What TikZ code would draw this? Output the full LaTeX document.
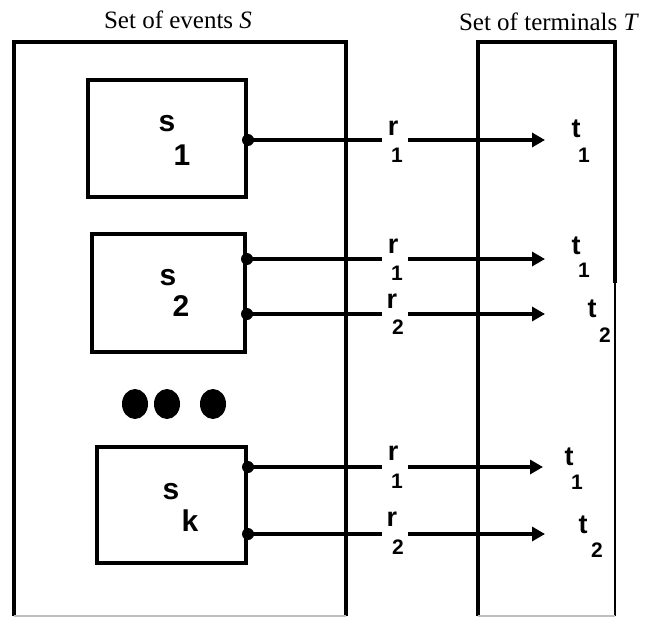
\documentclass[tikz,border=0pt]{standalone}
\usepackage{fontspec}
\setmainfont{Liberation Serif}
\setsansfont{Liberation Sans}
\usetikzlibrary{arrows.meta}

\begin{document}
\begin{tikzpicture}[x=1pt,y=-1pt,
	frame/.style={line width=4pt},
	evbox/.style 2 args={draw,line width=4pt,minimum width=#1,minimum height=#2,inner sep=0pt},
	ttl/.style={font=\fontsize{25}{25}\selectfont,inner sep=0pt},
	big/.style={font=\sffamily\bfseries\fontsize{30}{30}\selectfont,inner sep=0pt},
	mid/.style={font=\sffamily\bfseries\fontsize{27}{27}\selectfont,inner sep=0pt},
	small/.style={font=\sffamily\bfseries\fontsize{21}{21}\selectfont,inner sep=0pt},
	gap/.style={minimum width=26pt,minimum height=0pt,inner sep=0pt},
	conn/.style={line width=4pt},
	arr/.style={conn,-{Triangle[length=13pt,width=14pt]}}]
	\useasboundingbox (0,0) rectangle (651,618);
	% titles
	\node[ttl] (tS) at (178,20) {Set of events \textit{S}};
	\node[ttl] (tT) at (549,22) {Set of terminals \textit{T}};
	% the two sets
	\draw[frame] (14,616) -- (14,42) -- (346,42) -- (346,616);
	\draw[gray!50,line width=1.2pt] (14,616) -- (346,616);
	\draw[frame] (478,616) -- (478,42) -- (615,42) -- (615,283);
	\draw[line width=2pt] (615,283) -- (615,616);
	\draw[gray!50,line width=1.2pt] (478,616) -- (615,616);
	% events
	\node[evbox={158pt}{117pt}] (s1) at (167,138.5) {};
	\node[evbox={153pt}{118pt}] (s2) at (168.5,293) {};
	\node[evbox={149pt}{116pt}] (sk) at (171.5,505) {};
	\node[big] (s1a) at (167,124) {s};
	\node[big] (s1b) at (182,155) {1};
	\node[big] (s2a) at (168,278) {s};
	\node[big] (s2b) at (181,306) {2};
	\node[big] (ska) at (171,492) {s};
	\node[big] (skb) at (190,521) {k};
	% dots
	\fill (135,404) ellipse (13 and 15);
	\fill (167,404) ellipse (13 and 15);
	\fill (213,404) ellipse (13 and 15);
	% ports
	\coordinate (pa) at (s1.east |- 0,140);
	\coordinate (pb) at (s2.east |- 0,259);
	\coordinate (pc) at (s2.east |- 0,314);
	\coordinate (pd) at (sk.east |- 0,467);
	\coordinate (pe) at (sk.east |- 0,534);
	\foreach \p in {pa,pb,pc,pd,pe}
		\fill (\p) circle (6);
	% gaps for the r labels
	\node[gap] (ga) at (395,140) {};
	\node[gap] (gb) at (395,259) {};
	\node[gap] (gc) at (395,314) {};
	\node[gap] (gd) at (395,467) {};
	\node[gap] (ge) at (395,534) {};
	\node[mid] (ra) at (393,128) {r};
	\node[small] (ria) at (397,155) {1};
	\node[mid] (rb) at (393,246) {r};
	\node[small] (rib) at (397,273) {1};
	\node[mid] (rc) at (392,301) {r};
	\node[small] (ric) at (398,327) {2};
	\node[mid] (rd) at (393,453) {r};
	\node[small] (rid) at (397,481) {1};
	\node[mid] (re) at (392,519) {r};
	\node[small] (rie) at (398,547) {2};
	% terminals
	\node[mid] (ta) at (576,129) {t};
	\node[small] (tia) at (584,155) {1};
	\node[mid] (tb) at (576,246) {t};
	\node[small] (tib) at (584,270) {1};
	\node[mid] (tc) at (592,309) {t};
	\node[small] (tic) at (605,335) {2};
	\node[mid] (td) at (569,457) {t};
	\node[small] (tid) at (577,482) {1};
	\node[mid] (te) at (583,525) {t};
	\node[small] (tie) at (597,550) {2};
	\coordinate (xa) at (545,140);
	\coordinate (xb) at (545,259);
	\coordinate (xc) at (545,314);
	\coordinate (xd) at (543,467);
	\coordinate (xe) at (545,534);
	% connectors
	\foreach \i in {a,b,c,d,e}{
		\draw[conn] (p\i) -- (g\i.west);
		\draw[arr] (g\i.east) -- (x\i);
	}
\end{tikzpicture}
\end{document}
